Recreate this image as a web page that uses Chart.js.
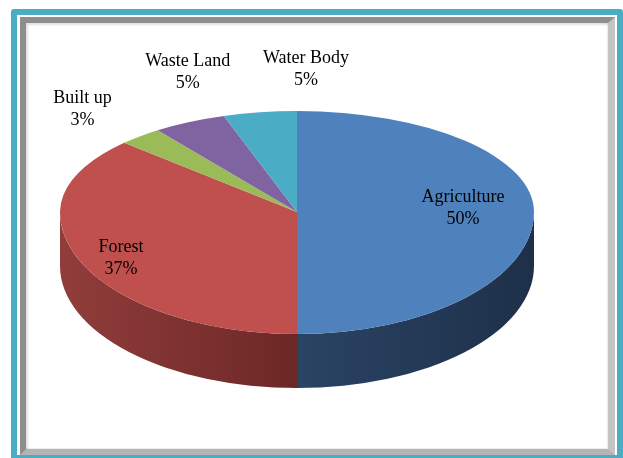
<!DOCTYPE html>
<html>
<head>
<meta charset="utf-8">
<script src="https://cdn.jsdelivr.net/npm/chart.js@4/dist/chart.umd.min.js"></script>
<style>
    html, body { margin: 0; padding: 0; width: 623px; height: 458px; overflow: hidden; background: #ffffff; }
    .frame-outer {
        position: absolute; left: 11px; top: 9px; width: 600px; height: 440px;
        border: 6px solid #4aacc5; border-radius: 3px; background: #ffffff;
    }
    .frame-inner {
        position: absolute; left: 20px; top: 17px; width: 582px; height: 426px;
        border-style: solid; border-width: 6px 7px 6px 6px;
        border-color: #8e8e8e #c4c4c4 #b4b4b4 #8e8e8e; background: #ffffff;
        box-shadow: inset 2px 2px 2px rgba(0, 0, 0, 0.12), inset -1px -1px 1px rgba(0, 0, 0, 0.08);
    }
    #chart { position: absolute; left: 0; top: 0; }
</style>
</head>
<body>
<div class="frame-outer"></div>
<div class="frame-inner"></div>
<canvas id="chart" width="623" height="458"></canvas>
<script>
// Datos del gráfico
const landUse = ['Agriculture', 'Forest', 'Built up', 'Waste Land', 'Water Body'];
const sharePct = [50, 37, 3, 5, 5];

// Colores
const topColors = ['#4f81bd', '#c0504d', '#9bbb59', '#8064a2', '#4bacc6'];
const sideShades = [
    ['#2a4464', '#1e3049'],
    ['#913d3b', '#6c2826'],
    ['#5d7235', '#4a5b2a'],
    ['#4d3c62', '#3d304e'],
    ['#2d6777', '#245260']
];

// Geometría de la elipse (pastel 3D)
const PX = 297, PY = 212, RX = 237, RYT = 101, RYB = 122, DEPTH = 54;

// Colocación de etiquetas: factor radial y ajuste fino
const labelPlacement = [
    { k: 0.70, dx: 0, dy: -4 },
    { k: 0.80, dx: -2, dy: 8 },
    { k: 1.35, dx: -3, dy: 0 },
    { k: 1.35, dx: 36, dy: -18 },
    { k: 1.35, dx: 59, dy: -8 }
];

const pie3d = {
    id: 'pie3d',
    beforeDatasetsDraw(chart) {
        const ctx = chart.ctx;
        const arcs = chart.getDatasetMeta(0).data;
        const cx = arcs[0].x, cy = arcs[0].y, R = arcs[0].outerRadius;

        // Paredes laterales (solo la mitad frontal)
        arcs.forEach((arc, i) => {
            const a1 = Math.max(arc.startAngle, 0);
            const a2 = Math.min(arc.endAngle, Math.PI);
            if (a2 <= a1) return;
            const x1 = PX + RX * Math.cos(a1), x2 = PX + RX * Math.cos(a2);
            const g = ctx.createLinearGradient(Math.min(x1, x2), 0, Math.max(x1, x2), 0);
            g.addColorStop(0, sideShades[i][0]);
            g.addColorStop(1, sideShades[i][1]);
            ctx.save();
            ctx.beginPath();
            ctx.ellipse(PX, PY, RX, RYB, 0, a1, a2);
            ctx.ellipse(PX, PY + DEPTH, RX, RYB, 0, a2, a1, true);
            ctx.closePath();
            ctx.fillStyle = g;
            ctx.fill();
            ctx.restore();
        });

        // Cara superior: mitad de arriba y mitad de abajo con escalas distintas
        [[0, PY + 1, RYT], [PY, chart.height - PY, RYB]].forEach(([top, h, ry]) => {
            ctx.save();
            ctx.beginPath();
            ctx.rect(0, top, chart.width, h);
            ctx.clip();
            ctx.translate(PX, PY);
            ctx.scale(RX / R, ry / R);
            ctx.translate(-cx, -cy);
            arcs.forEach(arc => arc.draw(ctx));
            ctx.restore();
        });
        return false;
    },
    afterDraw(chart) {
        const ctx = chart.ctx;
        const arcs = chart.getDatasetMeta(0).data;
        const total = sharePct.reduce((a, b) => a + b, 0);
        ctx.save();
        ctx.font = '18px "Liberation Serif", "Times New Roman", serif';
        ctx.fillStyle = '#000000';
        ctx.textAlign = 'center';
        ctx.textBaseline = 'middle';
        arcs.forEach((arc, i) => {
            const mid = (arc.startAngle + arc.endAngle) / 2;
            const p = labelPlacement[i];
            const s = Math.sin(mid);
            const x = PX + p.k * RX * Math.cos(mid) + p.dx;
            const y = PY + p.k * (s < 0 ? RYT : RYB) * s + p.dy;
            const pct = Math.round(sharePct[i] / total * 100) + '%';
            ctx.fillText(landUse[i], x, y - 11);
            ctx.fillText(pct, x, y + 11);
        });
        ctx.restore();
    }
};

new Chart(document.getElementById('chart'), {
    type: 'pie',
    data: {
        labels: landUse,
        datasets: [{
            data: sharePct,
            backgroundColor: topColors,
            borderWidth: 0
        }]
    },
    options: {
        responsive: false,
        animation: false,
        events: [],
        plugins: {
            legend: { display: false },
            tooltip: { enabled: false }
        }
    },
    plugins: [pie3d]
});
</script>
</body>
</html>
